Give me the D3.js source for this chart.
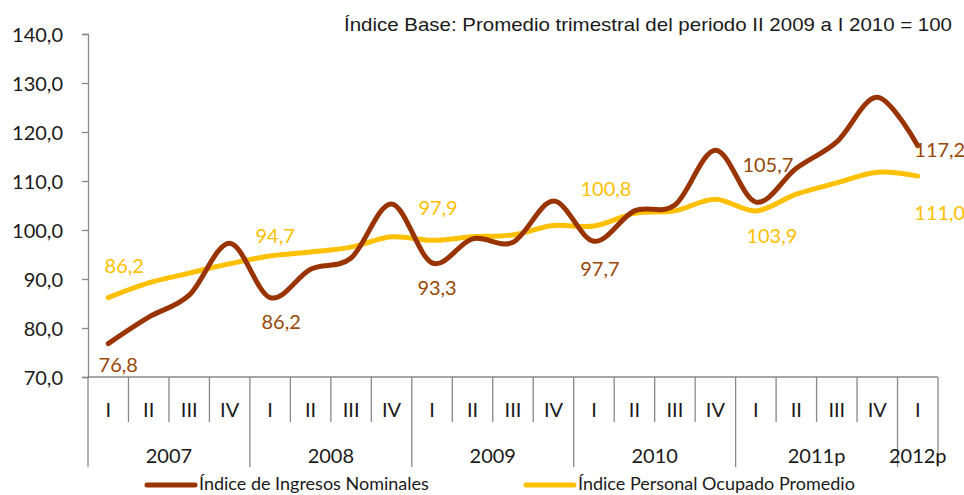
<!DOCTYPE html>
<html>
<head>
	<meta charset="utf-8">
	<script src="https://d3js.org/d3.v7.min.js"></script>
	<title>Índice de Ingresos Nominales</title>
</head>
<style>
	body {
		margin: 0;
		background: #fff;
	}
	.tick-label {
		font-family: Lato, "Noto Sans", sans-serif;
		font-size: 20px;
		fill: #1a1a1a;
	}
	.grid-line {
		stroke: #888;
		stroke-width: 1.3px;
	}
	.serie {
		fill: none;
		stroke-width: 5px;
		stroke-linecap: round;
	}
</style>
<body>
	<svg id="chart" width="964" height="495"></svg>
</body>
</html>
<script>
	// trimestres y años del eje x
	var quarters = ["I", "II", "III", "IV", "I", "II", "III", "IV", "I", "II", "III", "IV",
		"I", "II", "III", "IV", "I", "II", "III", "IV", "I"];
	var years = ["2007", "2008", "2009", "2010", "2011p", "2012p"];
	var yearSpan = [4, 4, 4, 4, 4, 1];

	// valores
	var ingresos = [76.8, 82.2, 86.7, 97.3, 86.2, 92.0, 94.3, 105.3, 93.3, 98.2, 97.5,
		105.9, 97.7, 103.9, 105.1, 116.3, 105.7, 112.6, 118.0, 127.1, 117.2];
	var personal = [86.2, 89.2, 91.2, 93.1, 94.7, 95.5, 96.5, 98.6, 97.9, 98.6, 99.0,
		100.9, 100.8, 103.4, 103.9, 106.3, 103.9, 107.3, 109.6, 111.8, 111.0];
	var labeled = [0, 4, 8, 12, 16, 20];

	var yTicks = [70, 80, 90, 100, 110, 120, 130, 140];

	var titulo = "Índice Base: Promedio trimestral del periodo II 2009 a I 2010 = 100";
	var serieNames = ["Índice de Ingresos Nominales", "Índice Personal Ocupado Promedio"];
	var colors = {ingresos: "#993300", personal: "#FFC000", ingresosText: "#984807"};

	var margin = {top: 34, right: 26, bottom: 118, left: 88},
			width = 964 - margin.left - margin.right,
			height = 495 - margin.top - margin.bottom;

	var svg = d3.select("#chart")
		.append("g")
			.attr("transform", "translate(" + margin.left + "," + margin.top + ")");

	var x = d3.scaleBand()
			.domain(d3.range(quarters.length))
			.range([0, width]);
	var y = d3.scaleLinear()
			.domain([70, 140])
			.range([height, 0]);

	var fmt = function(v) { return d3.format(".1f")(v).replace(".", ","); };

	// eje y
	var yAxis = svg.append("g")
		.call(d3.axisLeft(y).tickValues(yTicks).tickSize(6).tickPadding(19).tickFormat(fmt));
	yAxis.select(".domain").attr("stroke", "#888").attr("stroke-width", 1.3);
	yAxis.selectAll(".tick line").attr("stroke", "#888").attr("stroke-width", 1.3);
	yAxis.selectAll(".tick text")
		.attr("class", "tick-label")
		.attr("fill", null)
		.attr("font-size", null)
		.attr("font-family", null)
		.attr("dy", "0.36em");

	// eje x: linea base y separadores
	svg.append("line")
		.attr("class", "grid-line")
		.attr("x1", 0).attr("x2", width)
		.attr("y1", height).attr("y2", height);

	var yearStart = d3.cumsum([0].concat(yearSpan));
	var bounds = d3.range(quarters.length + 1);

	svg.selectAll(".sep")
		.data(bounds)
		.enter().append("line")
			.attr("class", "grid-line")
			.attr("x1", function(d) { return d === quarters.length ? width : x(d); })
			.attr("x2", function(d) { return d === quarters.length ? width : x(d); })
			.attr("y1", height)
			.attr("y2", function(d) { return yearStart.indexOf(d) >= 0 ? height + 90 : height + 45; });

	svg.selectAll(".qlabel")
		.data(quarters)
		.enter().append("text")
			.attr("class", "tick-label")
			.attr("text-anchor", "middle")
			.attr("x", function(d, i) { return x(i) + x.bandwidth() / 2; })
			.attr("y", height + 40)
			.text(function(d) { return d; });

	svg.selectAll(".ylabel")
		.data(years)
		.enter().append("text")
			.attr("class", "tick-label")
			.attr("text-anchor", "middle")
			.attr("x", function(d, i) {
				return x(yearStart[i]) + yearSpan[i] * x.bandwidth() / 2;
			})
			.attr("y", height + 86)
			.text(function(d) { return d; });

	// lineas suavizadas
	var line = d3.line()
			.x(function(d, i) { return x(i) + x.bandwidth() / 2; })
			.y(function(d) { return y(d); })
			.curve(d3.curveCardinal.tension(0));

	svg.append("path")
		.datum(personal)
		.attr("class", "serie")
		.attr("stroke", colors.personal)
		.attr("d", line);

	svg.append("path")
		.datum(ingresos)
		.attr("class", "serie")
		.attr("stroke", colors.ingresos)
		.attr("d", line);

	// etiquetas de datos (desplazamiento respecto al punto)
	var offIngresos = [[10, 28], [11, 31], [5, 32], [6, 35], [12, -30], [22, 11]];
	var offPersonal = [[16, -25], [5, -13], [6, -25], [12, -30], [16, 32], [22, 44]];

	function addLabels(values, offs, color) {
		svg.selectAll(null)
			.data(labeled)
			.enter().append("text")
				.attr("class", "tick-label")
				.attr("text-anchor", "middle")
				.style("fill", color)
				.attr("x", function(d, k) { return x(d) + x.bandwidth() / 2 + offs[k][0]; })
				.attr("y", function(d, k) { return y(values[d]) + offs[k][1]; })
				.text(function(d) { return fmt(values[d]); });
	}
	addLabels(ingresos, offIngresos, colors.ingresosText);
	addLabels(personal, offPersonal, colors.personal);

	// titulo
	d3.select("#chart").append("text")
		.attr("x", 952)
		.attr("y", 31)
		.attr("text-anchor", "end")
		.attr("font-family", "'Liberation Sans', Arial, sans-serif")
		.attr("font-size", 18.5)
		.attr("textLength", 608)
		.attr("lengthAdjust", "spacingAndGlyphs")
		.attr("fill", "#1a1a1a")
		.text(titulo);

	// leyenda
	var legend = d3.select("#chart").append("g");
	var legendX = [147, 526];
	var legendColors = [colors.ingresos, colors.personal];
	serieNames.forEach(function(name, i) {
		legend.append("line")
			.attr("x1", legendX[i]).attr("x2", legendX[i] + 48)
			.attr("y1", 485).attr("y2", 485)
			.attr("stroke", legendColors[i])
			.attr("stroke-width", 5)
			.attr("stroke-linecap", "round");
		legend.append("text")
			.attr("class", "tick-label")
			.style("font-size", "18px")
			.attr("x", legendX[i] + 52)
			.attr("y", 490)
			.text(name);
	});
</script>
